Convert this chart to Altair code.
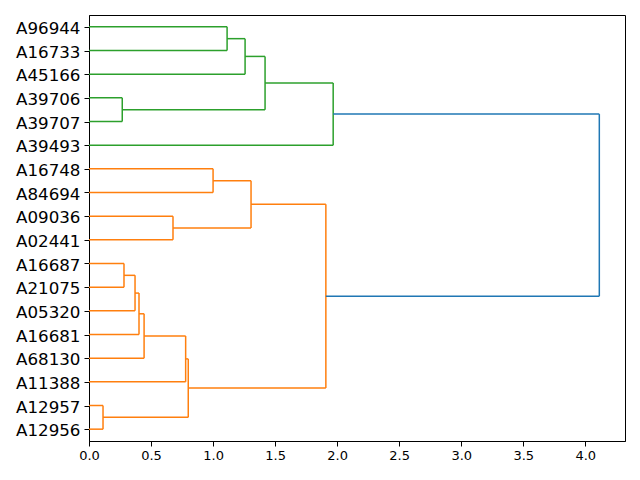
import altair as alt
import pandas as pd

# Leaves, listed from top to bottom as drawn
leaves_top_to_bottom = ["A96944", "A16733", "A45166", "A39706", "A39707", "A39493",
                        "A16748", "A84694", "A09036", "A02441", "A16687", "A21075",
                        "A05320", "A16681", "A68130", "A11388", "A12957", "A12956"]

# Linkage: merge i creates cluster "m{i}"
merge_left = ["A12957", "A39706", "A16687", "m2", "m3", "m4", "A09036", "m5", "m7",
              "A16748", "A96944", "m10", "m9", "m11", "m12", "m13", "m15"]
merge_right = ["A12956", "A39707", "A21075", "A05320", "A16681", "A68130", "A02441", "A11388", "m0",
               "A84694", "A16733", "A45166", "m6", "m1", "m8", "A39493", "m14"]
merge_height = [0.113, 0.268, 0.282, 0.371, 0.403, 0.444, 0.677, 0.779, 0.800,
                1.000, 1.113, 1.258, 1.306, 1.419, 1.909, 1.968, 4.113]
merge_group = ["C1", "C2", "C1", "C1", "C1", "C1", "C1", "C1", "C1",
               "C1", "C2", "C2", "C1", "C2", "C1", "C2", "C0"]

group_names = ["C0", "C1", "C2"]
group_colors = ["#1f77b4", "#ff7f0e", "#2ca02c"]

# leaf positions like scipy: 5, 15, ... from the bottom
n = len(leaves_top_to_bottom)
leaves_bottom_to_top = leaves_top_to_bottom[::-1]
pos = {name: 5 + 10 * i for i, name in enumerate(leaves_bottom_to_top)}
hgt = {name: 0.0 for name in leaves_bottom_to_top}

rows = []
for i, (a, b, h, g) in enumerate(zip(merge_left, merge_right, merge_height, merge_group)):
    ya, yb = pos[a], pos[b]
    rows.append(dict(x=hgt[a], x2=h, y=ya, y2=ya, g=g))
    rows.append(dict(x=h, x2=h, y=ya, y2=yb, g=g))
    rows.append(dict(x=hgt[b], x2=h, y=yb, y2=yb, g=g))
    pos[f"m{i}"] = (ya + yb) / 2
    hgt[f"m{i}"] = h

df = pd.DataFrame(rows)

label_array = "[" + ",".join(f"'{s}'" for s in leaves_bottom_to_top) + "]"

chart = alt.Chart(df).mark_rule(strokeWidth=1.5).encode(
    x=alt.X("x:Q", scale=alt.Scale(domain=[0, 4.32], nice=False, zero=False),
            axis=alt.Axis(values=[0, 0.5, 1, 1.5, 2, 2.5, 3, 3.5, 4], format=".1f",
                          title=None, grid=False, labelFontSize=13, tickSize=5,
                          labelPadding=3, labelFlush=False)),
    x2="x2:Q",
    y=alt.Y("y:Q", scale=alt.Scale(domain=[0, 10 * n], nice=False, zero=False),
            axis=alt.Axis(values=[5 + 10 * i for i in range(n)],
                          labelExpr=f"{label_array}[(datum.value - 5) / 10]",
                          title=None, grid=False, labelFontSize=16.7, tickSize=5,
                          labelPadding=4, labelOffset=1.5)),
    y2="y2:Q",
    color=alt.Color("g:N", scale=alt.Scale(domain=group_names, range=group_colors), legend=None),
).properties(
    width=536, height=426,
    autosize=alt.AutoSizeParams(type="none"),
    padding={"left": 81, "top": 7, "right": 7, "bottom": 31},
).configure_view(
    stroke="black", strokeWidth=1
).configure_axis(
    labelFont="DejaVu Sans", labelColor="black", domainColor="black", tickColor="black",
    domainWidth=1, tickWidth=1
)

chart.save("out.html", embed_options={"renderer": "svg", "actions": False})
